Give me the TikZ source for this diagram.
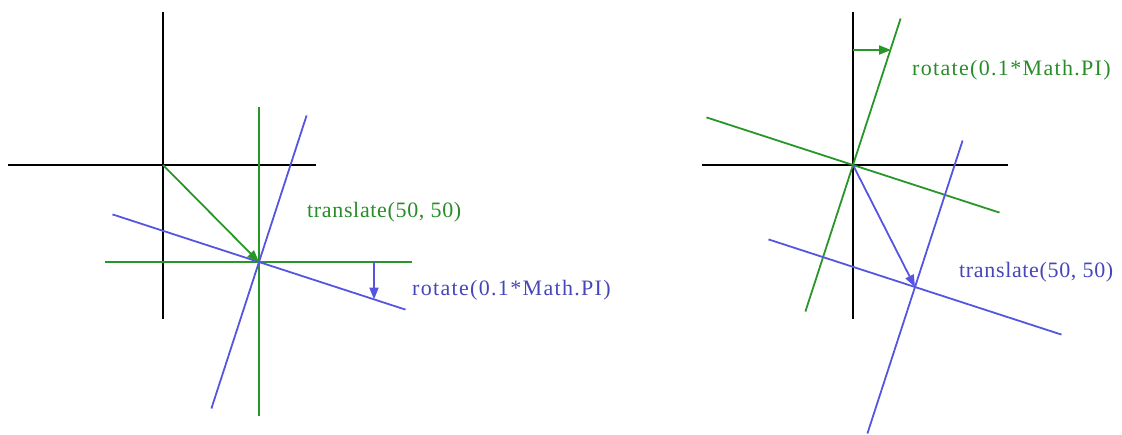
\documentclass[tikz,border=0pt]{standalone}
\usepackage{fontspec}
\newfontfamily\lblfont[LetterSpace=6]{Liberation Serif}
\newfontfamily\lblfontb[LetterSpace=3]{Liberation Serif}
\usetikzlibrary{arrows.meta,calc}
\definecolor{grn}{RGB}{40,150,40}
\definecolor{blu}{RGB}{85,85,225}
\definecolor{grntxt}{RGB}{40,140,40}
\definecolor{blutxt}{RGB}{70,70,185}
\tikzset{
  ax/.style={line width=1.8pt},
  arr/.style={line width=1.8pt,-{Triangle[length=12pt,width=9pt]}},
  lbl/.style={anchor=base west,inner sep=0pt,font=\lblfont\fontsize{22}{22}\selectfont},
  lblb/.style={anchor=base west,inner sep=0pt,font=\lblfontb\fontsize{22}{22}\selectfont},
}
\begin{document}
\begin{tikzpicture}[x=1pt,y=-1pt]
\useasboundingbox (0,0) rectangle (1122,434);
% ---------- left diagram ----------
\coordinate (O1) at (163,165);
\coordinate (G1) at (259,262);
% black axes
\draw[ax] ($(O1)+(-155,0)$) -- ($(O1)+(153,0)$);
\draw[ax] ($(O1)+(0,-153)$) -- ($(O1)+(0,154)$);
% green axes (translated)
\draw[ax,grn] ($(G1)+(-154,0)$) -- ($(G1)+(153,0)$);
\draw[ax,grn] ($(G1)+(0,-155)$) -- ($(G1)+(0,154)$);
% blue axes (translated + rotated)
\draw[ax,blu] ($(G1)+(-146.5,-47.6)$) -- ($(G1)+(146.5,47.6)$);
\draw[ax,blu] ($(G1)+(47.6,-146.5)$) -- ($(G1)+(-47.6,146.5)$);
% arrows
\draw[arr,grn] (O1) -- (G1);
\coordinate (B1s) at (374,262);
\coordinate (B1e) at (374,299.5);
\draw[arr,blu] (B1s) -- (B1e);
\node[lblb,text=grntxt] (t1) at (307,217) {translate(50, 50)};
\node[lbl,text=blutxt] (r1) at (412,295) {rotate(0.1*Math.PI)};
% ---------- right diagram ----------
\coordinate (O2) at (853,165);
\coordinate (B2) at (915,287);
% black axes
\draw[ax] ($(O2)+(-151,0)$) -- ($(O2)+(155,0)$);
\draw[ax] ($(O2)+(0,-153)$) -- ($(O2)+(0,154)$);
% green axes (rotated)
\draw[ax,grn] ($(O2)+(-146.5,-47.6)$) -- ($(O2)+(146.5,47.6)$);
\draw[ax,grn] ($(O2)+(47.6,-146.5)$) -- ($(O2)+(-47.6,146.5)$);
% blue axes (rotated + translated)
\draw[ax,blu] ($(B2)+(-146.5,-47.6)$) -- ($(B2)+(146.5,47.6)$);
\draw[ax,blu] ($(B2)+(47.6,-146.5)$) -- ($(B2)+(-47.6,146.5)$);
% arrows
\coordinate (G2s) at (853,50);
\coordinate (G2e) at (891,50);
\draw[arr,grn] (G2s) -- (G2e);
\draw[arr,blu] (O2) -- (B2);
\node[lbl,text=grntxt] (r2) at (912,75) {rotate(0.1*Math.PI)};
\node[lblb,text=blutxt] (t2) at (959,277) {translate(50, 50)};
\end{tikzpicture}
\end{document}
